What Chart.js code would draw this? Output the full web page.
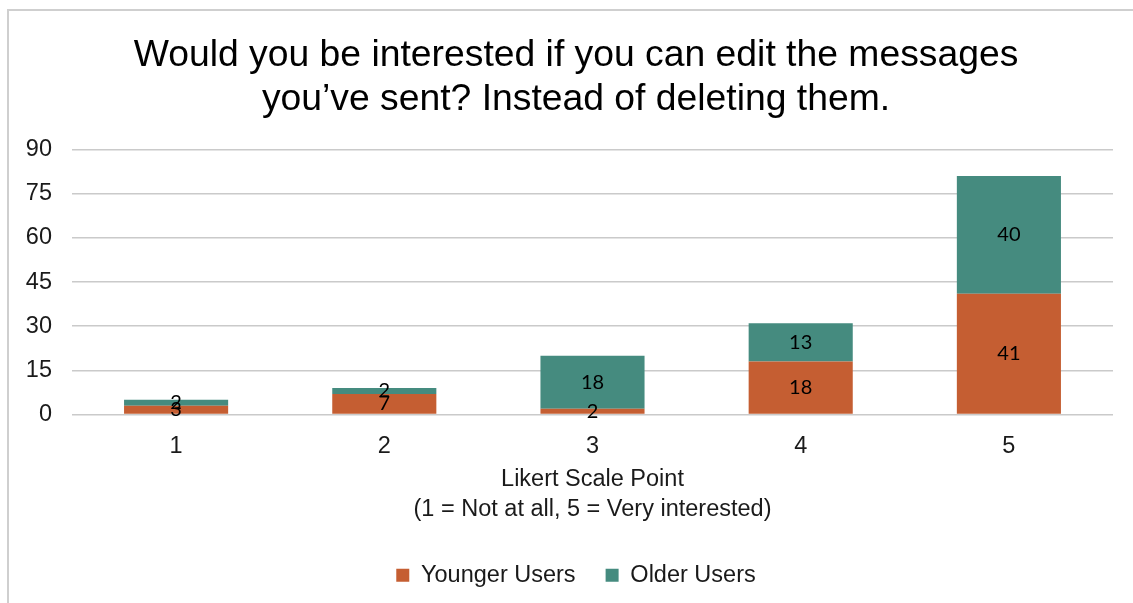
<!DOCTYPE html>
<html><head><meta charset="utf-8">
<script src="https://cdn.jsdelivr.net/npm/chart.js@4.4.1/dist/chart.umd.min.js"></script>
<style>
html,body{margin:0;padding:0;background:#fff;overflow:hidden;width:1133px;height:603px;}
#frame{position:absolute;left:7px;top:9px;width:1300px;height:800px;border:2px solid #cfcfcf;box-sizing:border-box;}
#c{position:absolute;left:0;top:0;}
</style></head>
<body>
<div id="frame"></div>
<canvas id="c" width="1133" height="603"></canvas>
<script>
const categories = ['1','2','3','4','5'];
const younger = [3, 7, 2, 18, 41];
const older = [2, 2, 18, 13, 40];
const yTicks = [0, 15, 30, 45, 60, 75, 90];
const titleLines = ['Would you be interested if you can edit the messages', 'you\u2019ve sent? Instead of deleting them.'];
const xTitleLines = ['Likert Scale Point', '(1 = Not at all, 5 = Very interested)'];

const labelPlugin = {
  id: 'barLabels',
  afterDatasetsDraw(chart) {
    const ctx = chart.ctx;
    ctx.save();
    ctx.font = '20px Lato';
    ctx.fillStyle = '#000';
    ctx.textAlign = 'center';
    ctx.textBaseline = 'middle';
    chart.data.datasets.forEach((ds, di) => {
      const meta = chart.getDatasetMeta(di);
      meta.data.forEach((bar, i) => {
        const y = (bar.y + bar.base) / 2;
        ctx.fillText(String(ds.data[i]), bar.x, y);
      });
    });
    ctx.restore();
  }
};

new Chart(document.getElementById('c'), {
  type: 'bar',
  data: {
    labels: categories,
    datasets: [
      { label: 'Younger Users', data: younger, backgroundColor: '#C55E32', borderWidth: 0, yAxisID: 'y' },
      { label: 'Older Users', data: older, backgroundColor: '#458B7F', borderWidth: 0, yAxisID: 'y' }
    ]
  },
  options: {
    responsive: false,
    animation: false,
    devicePixelRatio: 1,
    layout: { padding: { left: 19, right: 0, top: 33, bottom: 5.9 } },
    datasets: { bar: { categoryPercentage: 1.0, barPercentage: 0.5 } },
    scales: {
      x: {
        stacked: true,
        grid: { display: false, drawTicks: false },
        border: { display: false },
        ticks: { color: '#1a1a1a', font: { family: 'Liberation Sans', size: 23.5 }, padding: 18 },
        title: { display: true, text: xTitleLines, color: '#1a1a1a', font: { family: 'Liberation Sans', size: 23.5, lineHeight: 1.28 }, padding: { top: -14.3, bottom: 9 } }
      },
      y: {
        stacked: true,
        position: 'left',
        min: 0, max: 90,
        afterBuildTicks(axis) { axis.ticks = yTicks.map(v => ({ value: v })); },
        afterFit(axis) { axis.width = 53; },
        grid: { color: '#cacaca', lineWidth: 1.5, drawTicks: false },
        border: { display: false },
        ticks: { color: '#1a1a1a', font: { family: 'Liberation Sans', size: 23.5 }, padding: 20 }
      },
      yR: {
        type: 'linear',
        position: 'right',
        min: 0, max: 90,
        afterFit(axis) { axis.width = 20; },
        grid: { display: false, drawTicks: false },
        border: { display: false },
        ticks: { display: false }
      }
    },
    plugins: {
      title: { display: true, text: titleLines, color: '#000', font: { family: 'Liberation Sans', size: 37.3, weight: 'normal', lineHeight: 1.2 }, padding: { top: 0, bottom: 27 } },
      legend: {
        position: 'bottom',
        labels: { color: '#1a1a1a', font: { family: 'Liberation Sans', size: 23.5 }, boxWidth: 13, boxHeight: 13, padding: 30 }
      },
      tooltip: { enabled: false }
    }
  },
  plugins: [labelPlugin]
});
</script>
</body></html>
